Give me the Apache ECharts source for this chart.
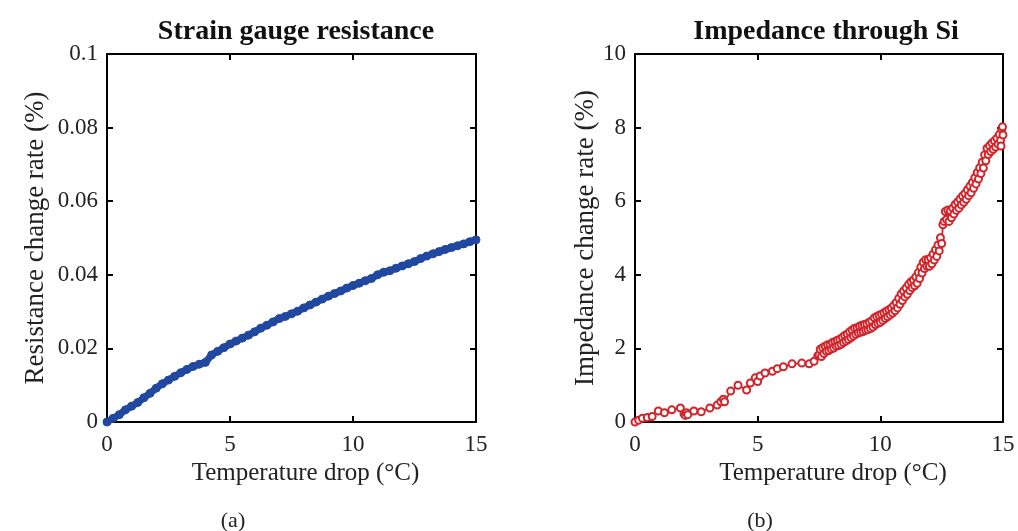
<!DOCTYPE html>
<html>
<head>
<meta charset="utf-8">
<script src="https://cdn.jsdelivr.net/npm/echarts@6/dist/echarts.min.js"></script>
<style>html,body{margin:0;padding:0;background:#fff}#c{width:1018px;height:531px}</style>
</head>
<body>
<div id="c"></div>
<script>
// ---- data ----
const xTicks = [0, 5, 10, 15];
const leftX = [0,0.25,0.5,0.75,1,1.25,1.5,1.75,2,2.25,2.5,2.75,3,3.25,3.5,3.75,4,4.25,4.5,4.75,5,5.25,5.5,5.75,6,6.25,6.5,6.75,7,7.25,7.5,7.75,8,8.25,8.5,8.75,9,9.25,9.5,9.75,10,10.25,10.5,10.75,11,11.25,11.5,11.75,12,12.25,12.5,12.75,13,13.25,13.5,13.75,14,14.25,14.5,14.75,15];
const leftY = [0,0.0010,0.0020,0.0033,0.0043,0.0053,0.0066,0.0078,0.0092,0.0104,0.0114,0.0124,0.0134,0.0143,0.0151,0.0157,0.0162,0.0182,0.0192,0.0202,0.0212,0.0220,0.0228,0.0236,0.0245,0.0255,0.0263,0.0272,0.0281,0.0287,0.0294,0.0301,0.0310,0.0318,0.0326,0.0334,0.0342,0.0349,0.0356,0.0364,0.0371,0.0377,0.0384,0.0390,0.0400,0.0407,0.0411,0.0418,0.0424,0.0430,0.0436,0.0444,0.0451,0.0457,0.0463,0.0469,0.0474,0.0479,0.0484,0.0490,0.0495];
// sparse early part of the impedance record
const rightXLow = [0,0.15,0.3,0.5,0.7,0.95,1.2,1.5,1.85,2.0,2.05,2.1,2.15,2.4,2.7,3.05,3.35,3.5,3.6,3.65,3.9,4.2,4.55,4.7,4.9,5.0,5.1,5.3,5.6,5.8,6.05,6.4,6.8,7.1,7.3,7.45];
const rightYLow = [0,0.05,0.1,0.12,0.15,0.3,0.25,0.33,0.38,0.22,0.18,0.25,0.2,0.3,0.28,0.38,0.46,0.55,0.62,0.55,0.84,1.0,0.87,1.06,1.2,1.1,1.25,1.33,1.38,1.45,1.5,1.58,1.6,1.58,1.65,1.8];
// dense later part
const rightXHigh = [7.5,7.55,7.6,7.65,7.7,7.75,7.8,7.85,7.9,7.95,8.0,8.05,8.1,8.15,8.2,8.25,8.3,8.35,8.4,8.45,8.5,8.55,8.6,8.65,8.7,8.75,8.8,8.85,8.9,8.95,9.0,9.05,9.1,9.15,9.2,9.25,9.3,9.35,9.4,9.45,9.5,9.55,9.6,9.65,9.7,9.75,9.8,9.85,9.9,9.95,10.0,10.05,10.1,10.15,10.2,10.25,10.3,10.35,10.4,10.45,10.5,10.55,10.6,10.65,10.7,10.75,10.8,10.85,10.9,10.95,11.0,11.05,11.1,11.15,11.2,11.25,11.3,11.35,11.4,11.45,11.5,11.55,11.6,11.65,11.7,11.75,11.8,11.85,11.9,11.95,12.0,12.05,12.1,12.15,12.2,12.25,12.3,12.35,12.4,12.45,12.5,12.55,12.6,12.65,12.7,12.75,12.8,12.85,12.9,12.95,13.0,13.05,13.1,13.15,13.2,13.25,13.3,13.35,13.4,13.45,13.5,13.55,13.6,13.65,13.7,13.75,13.8,13.85,13.9,13.95,14.0,14.05,14.1,14.15,14.2,14.25,14.3,14.35,14.4,14.45,14.5,14.55,14.6,14.65,14.7,14.75,14.8,14.85,14.9,14.95,15.0,14.98,14.92];
const rightYHigh = [1.82,1.98,1.78,2.02,1.86,2.06,1.92,2.1,1.94,2.1,1.98,2.16,2.01,2.19,2.06,2.22,2.08,2.25,2.11,2.3,2.16,2.35,2.2,2.39,2.24,2.45,2.29,2.5,2.34,2.55,2.38,2.56,2.42,2.6,2.44,2.63,2.46,2.65,2.49,2.67,2.51,2.71,2.54,2.75,2.58,2.83,2.64,2.87,2.68,2.9,2.71,2.93,2.76,2.97,2.81,3.01,2.86,3.05,2.91,3.1,2.96,3.17,3.02,3.25,3.1,3.36,3.2,3.48,3.3,3.56,3.4,3.64,3.47,3.74,3.57,3.81,3.65,3.86,3.7,3.94,3.77,4.06,3.9,4.21,4.05,4.34,4.17,4.41,4.23,4.41,4.23,4.46,4.3,4.56,4.4,4.68,4.5,4.81,4.65,5.01,4.85,5.36,5.45,5.72,5.5,5.76,5.45,5.74,5.55,5.81,5.65,5.91,5.75,5.98,5.81,6.06,5.9,6.14,5.97,6.21,6.05,6.31,6.15,6.41,6.23,6.51,6.35,6.64,6.47,6.78,6.6,6.91,6.75,7.06,6.9,7.26,7.1,7.44,7.27,7.51,7.35,7.58,7.41,7.64,7.47,7.71,7.55,7.81,7.65,7.96,7.8,8.02,7.5];

const leftData = leftX.map((x,i)=>[x,leftY[i]]);
const rightData = rightXLow.map((x,i)=>[x,rightYLow[i]]).concat(rightXHigh.map((x,i)=>[x,rightYHigh[i]]));

const FONT = 'Liberation Serif';
const blue = '#2148a0';
const red = '#d2252b';

function xAxes(gi){
  return [
    {gridIndex:gi, type:'value', min:0, max:15, interval:5, position:'bottom',
     name:'Temperature drop (°C)', nameLocation:'middle', nameGap:39,
     nameTextStyle:{fontFamily:FONT,fontSize:25,color:'#222',padding:[0,0,0,28]},
     axisLine:{lineStyle:{color:'#000',width:2}},
     axisTick:{inside:true,length:6,lineStyle:{color:'#000',width:2}},
     axisLabel:{fontFamily:FONT,fontSize:23,color:'#222',margin:11},
     splitLine:{show:false}},
    {gridIndex:gi, type:'value', min:0, max:15, interval:5, position:'top',
     axisLine:{show:true,onZero:false,lineStyle:{color:'#000',width:2}},
     axisTick:{show:true,inside:true,length:6,lineStyle:{color:'#000',width:2}},
     axisLabel:{show:false}, splitLine:{show:false}}
  ];
}
function yAxes(gi,max,interval,name,gap,fmt){
  return [
    {gridIndex:gi, type:'value', min:0, max:max, interval:interval, position:'left',
     name:name, nameLocation:'middle', nameGap:gap,
     nameTextStyle:{fontFamily:FONT,fontSize:27,color:'#222'},
     axisLine:{show:true,lineStyle:{color:'#000',width:2}},
     axisTick:{show:true,inside:true,length:6,lineStyle:{color:'#000',width:2}},
     axisLabel:{fontFamily:FONT,fontSize:23,color:'#222',margin:9,formatter:fmt},
     splitLine:{show:false}},
    {gridIndex:gi, type:'value', min:0, max:max, interval:interval, position:'right',
     axisLine:{show:true,onZero:false,lineStyle:{color:'#000',width:2}},
     axisTick:{show:true,inside:true,length:6,lineStyle:{color:'#000',width:2}},
     axisLabel:{show:false}, splitLine:{show:false}}
  ];
}

const chart = echarts.init(document.getElementById('c'), null, {renderer:'canvas'});
chart.setOption({
  animation:false,
  backgroundColor:'#fff',
  title:[
    {text:'Strain gauge resistance', left:291, top:13, textAlign:'center',
     textStyle:{fontFamily:FONT,fontSize:28,fontWeight:'bold',color:'#111'}},
    {text:'Impedance through Si', left:821, top:13, textAlign:'center',
     textStyle:{fontFamily:FONT,fontSize:28,fontWeight:'bold',color:'#111'}},
    {text:'(a)', left:228, top:505, textAlign:'center',
     textStyle:{fontFamily:FONT,fontSize:22,fontWeight:'normal',color:'#222'}},
    {text:'(b)', left:755, top:505, textAlign:'center',
     textStyle:{fontFamily:FONT,fontSize:22,fontWeight:'normal',color:'#222'}}
  ],
  grid:[
    {left:107, right:542, top:54, bottom:109},
    {left:635, right:15, top:54, bottom:109}
  ],
  xAxis:[...xAxes(0), ...xAxes(1)],
  yAxis:[
    ...yAxes(0,0.1,0.02,'Resistance change rate (%)',58,v=>v===0?'0':String(+v.toFixed(2))),
    ...yAxes(1,10,2,'Impedance change rate (%)',34,v=>String(v))
  ],
  series:[
    {type:'line', xAxisIndex:0, yAxisIndex:0, data:leftData,
     symbol:'circle', symbolSize:8, showSymbol:true,
     lineStyle:{color:blue,width:7}, itemStyle:{color:blue,borderColor:blue,borderWidth:1}},
    {type:'line', xAxisIndex:2, yAxisIndex:2, data:rightData,
     symbol:'emptyCircle', symbolSize:7, showSymbol:true,
     lineStyle:{color:red,width:1.8}, itemStyle:{color:red,borderColor:red,borderWidth:1.5}}
  ]
});
</script>
</body>
</html>
